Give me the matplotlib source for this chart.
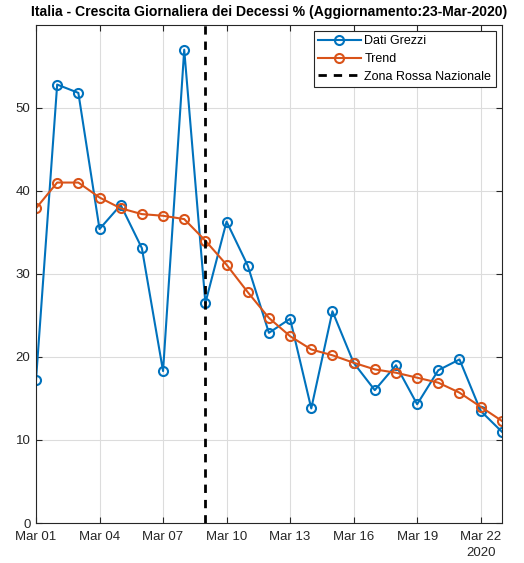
import datetime as dt

import matplotlib
matplotlib.use("Agg")
import matplotlib.pyplot as plt
import matplotlib.dates as mdates
import matplotlib.transforms as mtrans

plt.rcParams['font.family'] = ['Liberation Sans', 'DejaVu Sans']

start = dt.date(2020, 3, 1)
days = [start + dt.timedelta(days=i) for i in range(23)]

raw = [17.2, 52.8, 51.8, 35.4, 38.3, 33.1, 18.3, 57.0, 26.5, 36.3, 31.0, 22.9,
       24.6, 13.8, 25.5, 19.3, 16.0, 19.0, 14.3, 18.4, 19.7, 13.5, 11.0]
trend = [37.9, 41.0, 41.0, 39.2, 37.9, 37.2, 37.0, 36.6, 34.0, 31.1, 27.8, 24.7,
         22.5, 20.9, 20.2, 19.3, 18.5, 18.1, 17.5, 16.9, 15.7, 14.0, 12.3]
lockdown = dt.date(2020, 3, 9)
tick_days = [start + dt.timedelta(days=i) for i in range(0, 23, 3)]

blue = '#0072BD'
orange = '#D95319'
axcol = '#262626'

fig = plt.figure(figsize=(5.24, 5.63), dpi=100)
ax = fig.add_axes([0.0687, 0.071, 0.889, 0.885])

ax.plot(days, raw, '-o', color=blue, lw=1.5, ms=6.5, mfc='none', mew=1.5,
        label='Dati Grezzi')
ax.plot(days, trend, '-o', color=orange, lw=1.5, ms=6.5, mfc='none', mew=1.5,
        label='Trend')
ax.axvline(lockdown, color='black', lw=2, ls=(0, (3, 2.5)),
           label='Zona Rossa Nazionale')

ax.set_xlim(days[0], days[-1])
ax.set_ylim(0, 60)
ax.set_yticks(range(0, 60, 10))
ax.set_xticks(tick_days)
ax.xaxis.set_major_formatter(mdates.DateFormatter('%b %d'))
ax.tick_params(direction='in', top=True, right=True, length=4, width=0.8,
               colors=axcol, labelsize=9.5)
ax.tick_params(axis='x', pad=6)
ax.tick_params(axis='y', pad=4)
for s in ax.spines.values():
    s.set_color(axcol)
    s.set_linewidth(0.8)
ax.grid(True, color='#dcdcdc', lw=0.8)
ax.set_axisbelow(True)

trans = mtrans.blended_transform_factory(ax.transData, ax.transAxes)
ax.text(tick_days[-1], -0.06, '2020', transform=trans, ha='center', va='center',
        fontsize=9.5, color=axcol)

ax.set_title('Italia - Crescita Giornaliera dei Decessi % (Aggiornamento:23-Mar-2020)',
             fontsize=10.1, fontweight='bold', pad=6)

leg = ax.legend(loc='upper right', fontsize=9, fancybox=False, framealpha=1,
                edgecolor=axcol, borderaxespad=0.5, handlelength=3.4,
                handletextpad=0.3, borderpad=0.35, labelspacing=0.45)
leg.get_frame().set_linewidth(0.8)

fig.savefig('out.png', dpi=100)
